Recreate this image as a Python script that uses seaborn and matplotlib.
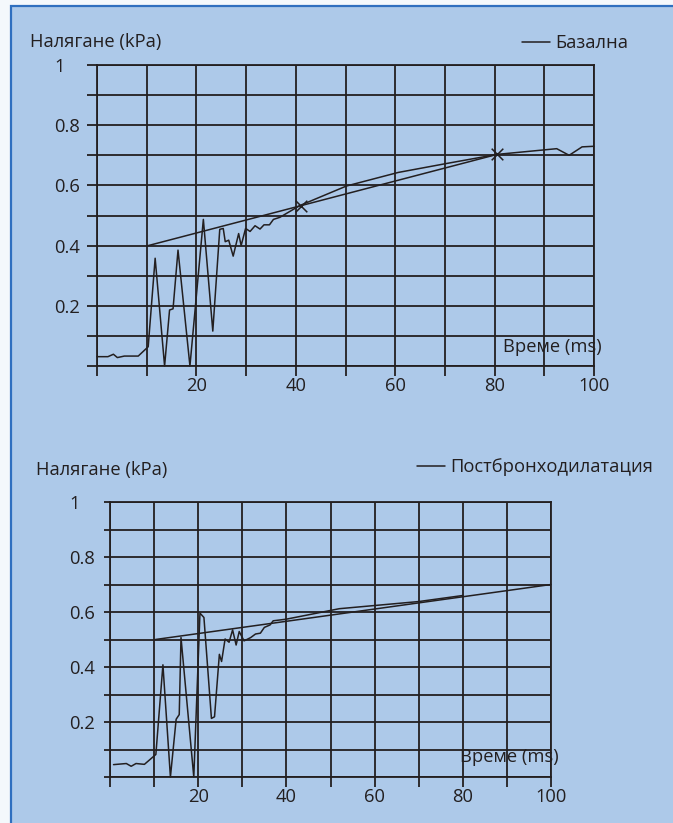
import matplotlib
matplotlib.use("Agg")
import matplotlib.pyplot as plt
from matplotlib.patches import Rectangle
import seaborn as sns

# Базална - pressure trace (ms, kPa)
base_t = [0, 2.2, 3.3, 4.1, 5.5, 8.3, 10.3, 11.7, 13.6, 14.6, 15.3, 16.3, 18.7,
          21.4, 23.3, 24.7, 25.4, 25.8, 26.5, 27.4, 28.5, 29.0, 29.9, 30.8, 31.8,
          32.8, 33.6, 34.7, 35.5, 36.8, 40.8, 50.2, 60.6, 70.4, 80.5, 92.5, 95.0,
          97.6, 100]
base_p = [0.031, 0.031, 0.039, 0.028, 0.033, 0.033, 0.064, 0.358, 0.0, 0.186,
          0.19, 0.385, 0.0, 0.487, 0.116, 0.454, 0.457, 0.413, 0.418, 0.365, 0.44,
          0.40, 0.457, 0.447, 0.466, 0.455, 0.469, 0.469, 0.487, 0.494, 0.533,
          0.598, 0.643, 0.673, 0.703, 0.722, 0.70, 0.728, 0.73]
base_fit_t = [10.3, 80.5]
base_fit_p = [0.40, 0.703]
base_mark_t = [41, 80.5]
base_mark_p = [0.533, 0.703]

# Постбронходилатация
post_t = [0.8, 3.7, 4.8, 5.9, 7.8, 10.4, 12.0, 13.7, 15.0, 15.7, 16.1, 19.0,
          20.4, 21.3, 23.0, 23.7, 24.8, 25.3, 26.1, 27.0, 27.8, 28.6, 29.3, 30.4,
          31.9, 33.0, 34.1, 35.0, 36.3, 37.0, 40.0, 52.0, 70.0, 80.0]
post_p = [0.045, 0.049, 0.039, 0.049, 0.046, 0.082, 0.408, 0.0, 0.21, 0.227,
          0.507, 0.0, 0.596, 0.58, 0.213, 0.219, 0.446, 0.42, 0.502, 0.49, 0.535,
          0.48, 0.529, 0.495, 0.507, 0.52, 0.523, 0.544, 0.553, 0.568, 0.574,
          0.612, 0.638, 0.66]
post_fit_t = [10.3, 100]
post_fit_p = [0.50, 0.70]

x_ticks = list(range(0, 101, 10))
x_labels = ["" if v % 20 or v == 0 else str(v) for v in x_ticks]
y_ticks = [i / 10 for i in range(11)]
y_labels = ["", "", "0.2", "", "0.4", "", "0.6", "", "0.8", "", "1"]

ylabel_text = "Налягане (kPa)"
xlabel_text = "Време (ms)"

BG = "#adc9e9"
INK = "#231f20"
W, H = 673, 823
FS = 13.2

sns.set_theme(style="ticks")
plt.rcParams["font.family"] = ["Open Sans", "DejaVu Sans"]
plt.rcParams["text.color"] = INK
plt.rcParams["xtick.color"] = INK
plt.rcParams["ytick.color"] = INK

fig = plt.figure(figsize=(W / 100, H / 100), dpi=100, facecolor="#f4f8fc")
fig.patches.append(Rectangle((11 / W, -0.01), 1.0, 1 - 6 / H + 0.01,
                             transform=fig.transFigure, facecolor=BG,
                             edgecolor="#2f6fbf", linewidth=1.6, zorder=-10))


def px_box(left, top, right, bottom):
    return [left / W, 1 - bottom / H, (right - left) / W, (bottom - top) / H]


def draw_panel(ax, t, p, fit_t, fit_p, name, ytick_len, ylab_left, xlab_pos,
               legend_right, legend_y, title_pos, mark_t=None, mark_p=None):
    ax.set_facecolor("none")
    sns.lineplot(x=t, y=p, sort=False, estimator=None, color=INK, lw=1.1,
                 label=name, ax=ax, clip_on=False, zorder=3)
    sns.lineplot(x=fit_t, y=fit_p, sort=False, estimator=None, color=INK,
                 lw=1.1, ax=ax, clip_on=False, zorder=3)
    if mark_t is not None:
        sns.scatterplot(x=mark_t, y=mark_p, marker="x", s=70, color=INK,
                        linewidth=1.1, ax=ax, zorder=4, clip_on=False)
    ax.set_xlim(0, 100)
    ax.set_ylim(0, 1)
    ax.set_xticks(x_ticks, x_labels)
    ax.set_yticks(y_ticks, y_labels)
    ax.grid(True, color=INK, lw=1.3)
    for s in ax.spines.values():
        s.set_visible(True)
        s.set_color(INK)
        s.set_linewidth(1.3)
    ax.tick_params(axis="x", length=7.2, width=1.3, pad=1, labelsize=FS)
    # y labels are left aligned in the original
    axis_left_px = ax.get_position().x0 * W
    gap_pt = (axis_left_px - ylab_left) * 0.72
    ax.tick_params(axis="y", length=ytick_len, width=1.3,
                   pad=gap_pt - ytick_len, labelsize=FS)
    plt.setp(ax.get_yticklabels(), ha="left")
    ax.set_xlabel("")
    ax.set_ylabel("")
    ax.text(xlab_pos[0], xlab_pos[1], xlabel_text, transform=ax.transAxes,
            fontsize=FS, ha="left", va="center", zorder=5)
    fig.text(title_pos[0] / W, 1 - title_pos[1] / H, ylabel_text,
             fontsize=FS, ha="left", va="center")
    ax.legend(loc="center right", bbox_to_anchor=(legend_right / W, 1 - legend_y / H),
              bbox_transform=fig.transFigure, frameon=False, fontsize=FS,
              handlelength=1.5, handletextpad=0.3, borderpad=0, borderaxespad=0)


ax1 = fig.add_axes(px_box(97, 65, 594, 366))
draw_panel(ax1, base_t, base_p, base_fit_t, base_fit_p, "Базална", 7.2, 54,
           (0.817, 0.063), 628, 43, (30, 42), base_mark_t, base_mark_p)

ax2 = fig.add_axes(px_box(110, 502, 551, 777))
draw_panel(ax2, post_t, post_p, post_fit_t, post_fit_p, "Постбронходилатация",
           4.3, 69, (0.794, 0.073), 653, 467, (36, 470))

fig.savefig("out.png", dpi=100, facecolor=fig.get_facecolor())
